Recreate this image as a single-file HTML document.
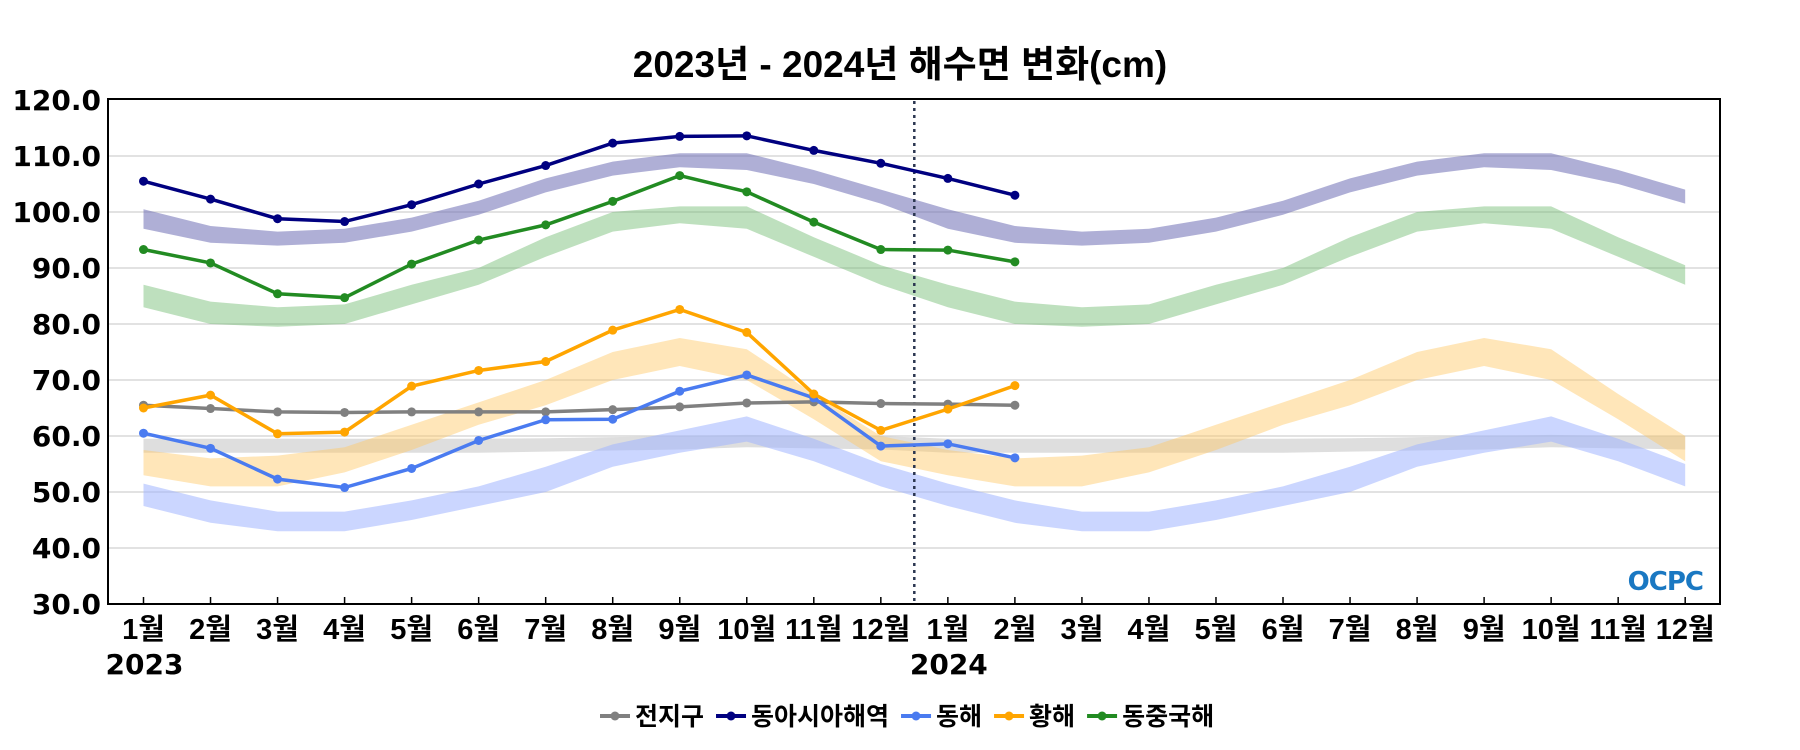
<!DOCTYPE html>
<html><head><meta charset="utf-8">
<style>
html,body{margin:0;padding:0;background:#fff;}
svg{display:block;}
text{font-family:"DejaVu Sans","Noto Sans CJK KR",sans-serif;font-weight:bold;fill:#000;}
.kr{font-family:"Liberation Sans","Noto Sans CJK KR",sans-serif;}
</style></head>
<body>
<svg id="chart" width="1800" height="750" viewBox="0 0 1800 750" xmlns="http://www.w3.org/2000/svg">
<text class="kr" x="900" y="77" font-size="37" text-anchor="middle">2023년 - 2024년 해수면 변화(cm)</text>
<g id="grid"></g>
<g id="bands"></g>
<line x1="914.3" y1="101" x2="914.3" y2="603" stroke="#2b3650" stroke-width="2.5" stroke-dasharray="3,4"/>
<g id="lines"></g>
<rect x="108" y="99" width="1612" height="505" fill="none" stroke="#000" stroke-width="2"/>
<g id="axes"></g>
<text x="1703" y="590" font-size="26" text-anchor="end" style="fill:#1a78c2;letter-spacing:-1px">OCPC</text>
<g id="legend"></g>
</svg>
<script>
const yTicks=[30,40,50,60,70,80,90,100,110,120];
const monthLabels=["1월","2월","3월","4월","5월","6월","7월","8월","9월","10월","11월","12월","1월","2월","3월","4월","5월","6월","7월","8월","9월","10월","11월","12월"];
const yearLabels=["2023","2024"];
// climatology bands (lower, upper) per month, repeated for both years
const bandPurpleLo=[97,94.5,94,94.5,96.5,99.5,103.5,106.5,108,107.5,105,101.5];
const bandPurpleHi=[100.5,97.5,96.5,97,99,102,106,109,110.5,110.5,107.5,104];
const bandGreenLo=[83,80,79.5,80,83.5,87,92,96.5,98,97,92,87];
const bandGreenHi=[87,84,83,83.5,87,90,95.5,100,101,101,95.5,90.5];
const bandOrangeLo=[53,51,51,53.5,57.5,62,65.5,70,72.5,70,63,55.5];
const bandOrangeHi=[57.5,56,56.5,58,62,66,70,75,77.5,75.5,67.5,60];
const bandBlueLo=[47.5,44.5,43,43,45,47.5,50,54.5,57,59,55.5,51];
const bandBlueHi=[51.5,48.5,46.5,46.5,48.5,51,54.5,58.5,61,63.5,59.5,55];
const bandGrayLo=[57,57,57,57,57,57,57.2,57.4,57.6,58,57.8,57.6];
const bandGrayHi=[59.5,59.5,59.5,59.5,59.5,59.5,59.6,59.8,60,60.2,60,60];
// observed series (Jan 2023 – Feb 2024)
const seriesGlobal=[65.5,64.9,64.3,64.2,64.3,64.3,64.3,64.7,65.2,65.9,66.1,65.8,65.7,65.5];
const seriesEastAsia=[105.5,102.3,98.8,98.3,101.3,105,108.3,112.3,113.5,113.6,111,108.7,106,103];
const seriesEastSea=[60.5,57.8,52.3,50.8,54.2,59.2,62.9,63,68,70.9,66.8,58.2,58.6,56.1];
const seriesYellowSea=[65,67.3,60.4,60.7,68.9,71.7,73.3,78.9,82.6,78.5,67.5,61,64.8,69];
const seriesEastChinaSea=[93.3,90.9,85.4,84.7,90.7,95,97.7,101.9,106.5,103.6,98.2,93.3,93.2,91.1];
const seriesNames=["전지구","동아시아해역","동해","황해","동중국해"];

const NS="http://www.w3.org/2000/svg";
const X0=143.5,DX=67.03,YT=100,YB=604,VMIN=30,VMAX=120;
const xs=i=>X0+i*DX;
const ys=v=>YB-(v-VMIN)/(VMAX-VMIN)*(YB-YT);
function mk(tag,attrs,parent){const e=document.createElementNS(NS,tag);for(const k in attrs)e.setAttribute(k,attrs[k]);parent.appendChild(e);return e;}
const grid=document.getElementById('grid'),axes=document.getElementById('axes'),bands=document.getElementById('bands'),lines=document.getElementById('lines'),legend=document.getElementById('legend');

yTicks.forEach(v=>{
  if(v>VMIN&&v<VMAX){const g=mk('line',{x1:108,x2:1720,y1:ys(v),y2:ys(v),stroke:'#d9d9d9','stroke-width':1.5},grid);
  
  }
  const t=mk('text',{x:101,y:ys(v)+10,'font-size':28,'text-anchor':'end'},axes);t.textContent=v.toFixed(1);
  
  
});
monthLabels.forEach((m,i)=>{
  const tk=mk('line',{x1:xs(i),x2:xs(i),y1:YB-7,y2:YB,stroke:'#000','stroke-width':1.5},axes);
  
  
  const t=mk('text',{x:xs(i),y:639,'font-size':29,'text-anchor':'middle',class:'kr'},axes);t.textContent=m;
  
  
});
yearLabels.forEach((y,k)=>{
  const t=mk('text',{x:xs(k*12)-38,y:674,'font-size':28},axes);t.textContent=y;
  
  
});

function band(lo,hi,color,name){
  const L=[],H=[];
  for(let i=0;i<24;i++){L.push(lo[i%12]);H.push(hi[i%12]);}
  let d='M'+H.map((v,i)=>xs(i)+','+ys(v)).join(' L');
  d+=' L'+L.map((v,i)=>[xs(i),ys(v)]).reverse().map(p=>p[0]+','+p[1]).join(' L')+' Z';
  const p=mk('path',{d:d,fill:color,stroke:'none'},bands);
  
  
}
band(bandGrayLo,bandGrayHi,'rgba(200,200,200,0.6)','band-global');
band(bandBlueLo,bandBlueHi,'rgba(160,180,255,0.55)','band-east-sea');
band(bandOrangeLo,bandOrangeHi,'rgba(255,200,100,0.45)','band-yellow-sea');
band(bandGreenLo,bandGreenHi,'rgba(100,180,100,0.42)','band-east-china-sea');
band(bandPurpleLo,bandPurpleHi,'rgba(110,110,180,0.55)','band-east-asia');

const series=[[seriesGlobal,'#808080','line-global'],[seriesEastAsia,'#000080','line-east-asia'],[seriesEastSea,'#4a7bf0','line-east-sea'],[seriesYellowSea,'#ffa500','line-yellow-sea'],[seriesEastChinaSea,'#228b22','line-east-china-sea']];
series.forEach(([data,c,name])=>{
  const pl=mk('polyline',{points:data.map((v,i)=>xs(i)+','+ys(v)).join(' '),fill:'none',stroke:c,'stroke-width':3.5},lines);
  
  
  data.forEach((v,i)=>{const ci=mk('circle',{cx:xs(i),cy:ys(v),r:4.5,fill:c},lines);
    
    });
});

let lx=600;
seriesNames.forEach((n,k)=>{
  const g=mk('g',{},legend);
  
  
  mk('line',{x1:lx,x2:lx+30,y1:716,y2:716,stroke:series[k][1],'stroke-width':4},g);
  mk('circle',{cx:lx+15,cy:716,r:4.5,fill:series[k][1]},g);
  const t=mk('text',{x:lx+35,y:725,'font-size':25,class:'kr'},g);t.textContent=n;
  lx+=35+t.getComputedTextLength()+12;
});
</script>
</body></html>
